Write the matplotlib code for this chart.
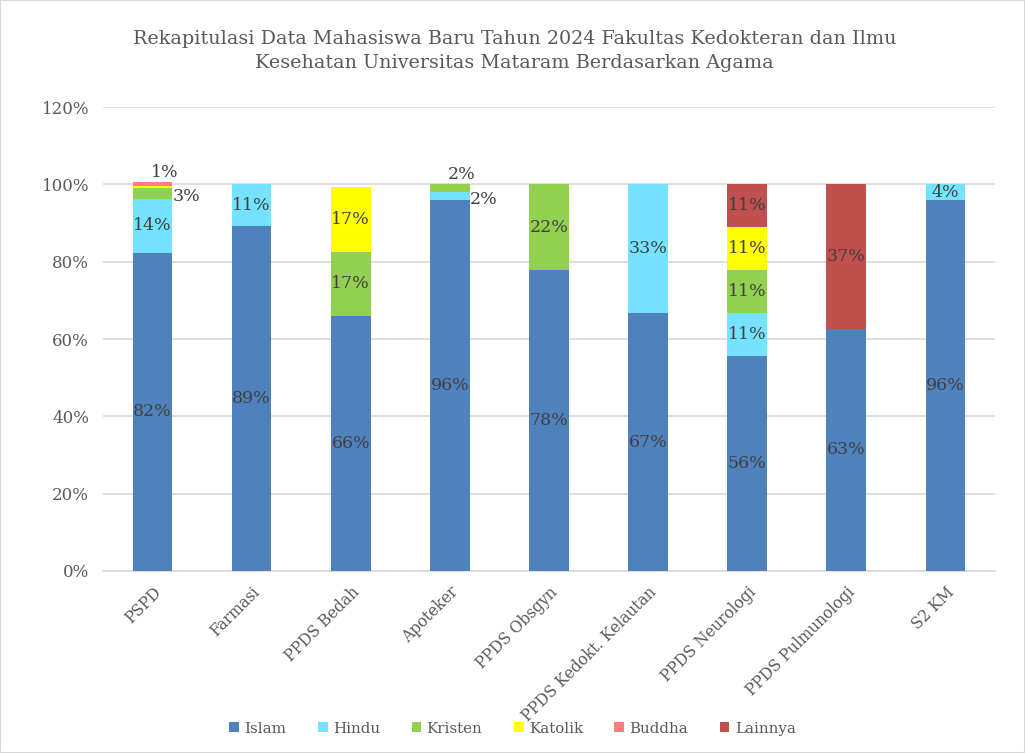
import numpy as np
import matplotlib
matplotlib.use('Agg')
import matplotlib.pyplot as plt
from matplotlib.patches import Rectangle

plt.rcParams['font.family'] = ['DejaVu Serif']

prodi = ['PSPD', 'Farmasi', 'PPDS Bedah', 'Apoteker', 'PPDS Obsgyn',
         'PPDS Kedokt. Kelautan', 'PPDS Neurologi', 'PPDS Pulmunologi', 'S2 KM']
agama = ['Islam', 'Hindu', 'Kristen', 'Katolik', 'Buddha', 'Lainnya']

islam   = [82.3, 89.1, 66.0, 96.0, 77.8, 66.7, 55.6, 62.6, 96.0]
hindu   = [14.0, 10.9, 0.0, 2.0, 0.0, 33.3, 11.1, 0.0, 4.0]
kristen = [2.7, 0.0, 16.6, 2.0, 22.2, 0.0, 11.1, 0.0, 0.0]
katolik = [0.5, 0.0, 16.6, 0.0, 0.0, 0.0, 11.1, 0.0, 0.0]
buddha  = [1.1, 0.0, 0.0, 0.0, 0.0, 0.0, 0.0, 0.0, 0.0]
lainnya = [0.0, 0.0, 0.0, 0.0, 0.0, 0.0, 11.1, 37.4, 0.0]

warna = ['#4F81BD', '#75E3FF', '#92D050', '#FFFF00', '#FF7C80', '#C0504D']

data = np.array([islam, hindu, kristen, katolik, buddha, lainnya])

fig = plt.figure(figsize=(10.25, 7.53), dpi=100)
ax = fig.add_axes([0.1005, 0.2417, 0.8702, 0.6162])
fig.patches.append(Rectangle((0, 0), 1, 1, transform=fig.transFigure,
                             fill=False, edgecolor='#D9D9D9', lw=1.5))

x = np.arange(len(prodi))
bottom = np.zeros(len(prodi))
for i, nama in enumerate(agama):
    ax.bar(x, data[i], 0.4, bottom=bottom, color=warna[i], label=nama, zorder=3)
    for j in range(len(prodi)):
        v = data[i, j]
        if v <= 0:
            continue
        lbl = '%d%%' % round(v)
        if v >= 4:
            ax.text(x[j], bottom[j] + v / 2, lbl, ha='center', va='center',
                    fontsize=12.5, color='#404040', zorder=4)
        elif nama == 'Katolik':
            pass
        elif (nama == 'Buddha') or (nama == 'Kristen' and j == 3):
            ax.text(x[j] + 0.12, bottom[j] + v + 0.3, lbl, ha='center', va='bottom',
                    fontsize=12.5, color='#404040', zorder=4)
        else:
            ax.text(x[j] + 0.2, bottom[j] + v / 2 - 0.8, lbl, ha='left', va='center',
                    fontsize=12.5, color='#404040', zorder=4)
    bottom += data[i]

ax.set_ylim(0, 120)
ax.set_xlim(-0.5, len(prodi) - 0.5)
ax.set_yticks(np.arange(0, 121, 20))
ax.set_yticklabels(['%d%%' % t for t in range(0, 121, 20)])
ax.set_xticks(x)
ax.set_xticklabels(prodi, rotation=45, ha='right', rotation_mode='anchor')
ax.tick_params(axis='y', length=0, labelsize=12, colors='#595959', pad=10)
ax.tick_params(axis='x', length=0, labelsize=11.2, colors='#595959', pad=9)
ax.grid(axis='y', color='#D9D9D9', lw=1.2, zorder=0)
for s in ['top', 'right', 'left']:
    ax.spines[s].set_visible(False)
ax.spines['bottom'].set_color('#D9D9D9')
ax.spines['bottom'].set_linewidth(1.2)

fig.text(0.502, 0.932,
         'Rekapitulasi Data Mahasiswa Baru Tahun 2024 Fakultas Kedokteran dan Ilmu\n'
         'Kesehatan Universitas Mataram Berdasarkan Agama',
         ha='center', va='center', fontsize=13.8, color='#595959', linespacing=1.45)

fig.legend(loc='lower center', bbox_to_anchor=(0.5, 0.005), ncol=6, frameon=False,
           fontsize=10.8, handlelength=0.65, handleheight=0.65, columnspacing=2.1,
           handletextpad=0.35, labelcolor='#595959')

fig.savefig('out.png', dpi=100)
